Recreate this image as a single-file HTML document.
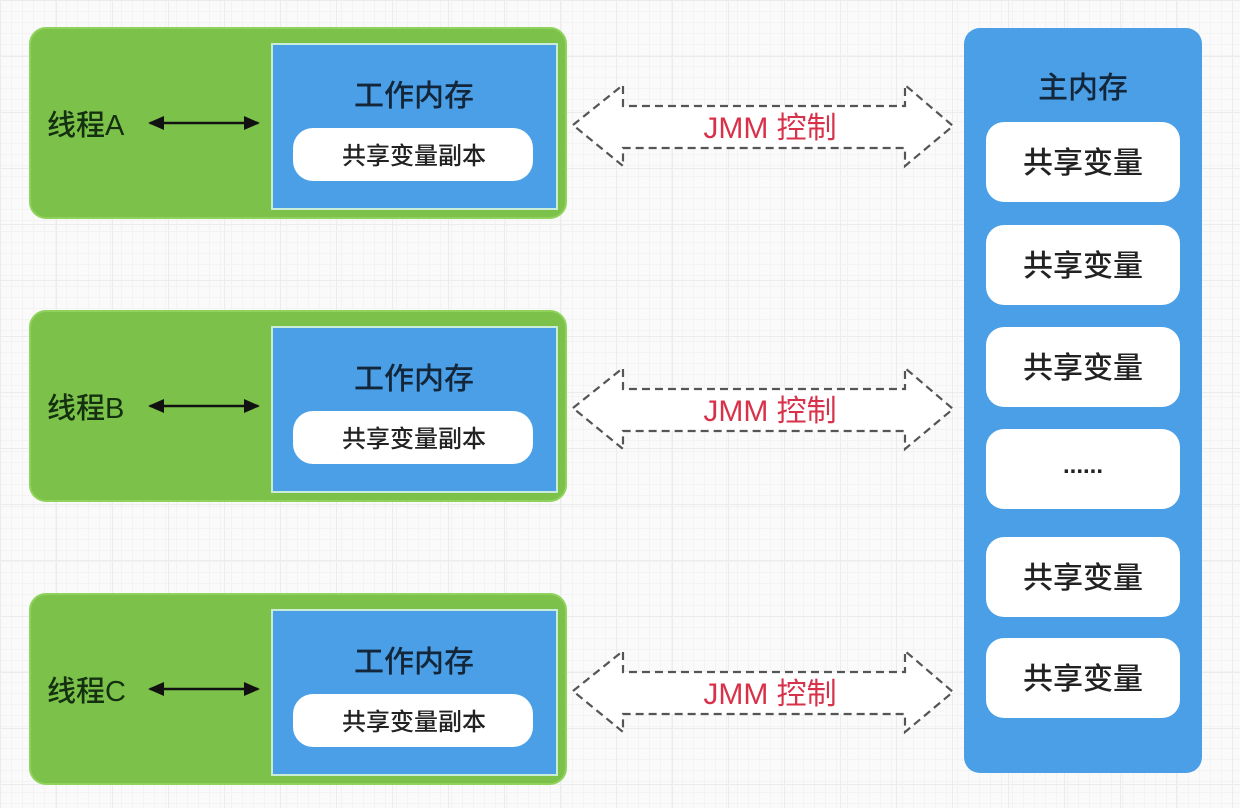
<!DOCTYPE html>
<html><head><meta charset="utf-8"><style>
html,body{margin:0;padding:0;}
body{width:1240px;height:808px;overflow:hidden;background-color:#fafafa;
background-image:linear-gradient(#ececec 1px,transparent 1px),linear-gradient(90deg,#ececec 1px,transparent 1px),linear-gradient(#f3f3f3 1px,transparent 1px),linear-gradient(90deg,#f3f3f3 1px,transparent 1px);
background-size:56px 56px,56px 56px,11px 11px,11px 11px;}
svg{position:absolute;left:0;top:0;font-family:"Liberation Sans","Noto Sans CJK SC",sans-serif;}
</style></head><body>
<svg width="1240" height="808" viewBox="0 0 1240 808">
<defs>
<marker id="ah" markerWidth="16" markerHeight="14" refX="14" refY="7" orient="auto-start-reverse" markerUnits="userSpaceOnUse"><path d="M0,0 L16,7 L0,14 z" fill="#111"/></marker>
<g id="thread">
  <rect x="30" y="28" width="536" height="190" rx="16" fill="#7cc24a" stroke="#8fd35c" stroke-width="2"/>
  <rect x="272" y="44" width="285" height="165" fill="#4a9fe6" stroke="#c9ecd9" stroke-width="2"/>
  <text x="414" y="106" font-size="30" text-anchor="middle" fill="#13263a" font-weight="500">工作内存</text>
  <rect x="293" y="128" width="240" height="53" rx="20" fill="#fff"/>
  <text x="414" y="164" font-size="24" text-anchor="middle" fill="#222" font-weight="500">共享变量副本</text>
  <line x1="150" y1="123" x2="258" y2="123" stroke="#111" stroke-width="2.5" marker-start="url(#ah)" marker-end="url(#ah)"/>
  <path d="M573,125 L623,85 L623,106 L905,106 L905,85 L953,126 L905,166 L905,148 L623,148 L623,166 Z" fill="#fff" stroke="#555" stroke-width="2.2" stroke-dasharray="8,5"/>
  <text x="770" y="138" font-size="30" text-anchor="middle" fill="#d8324a">JMM 控制</text>
</g>
</defs>
<use href="#thread"/>
<use href="#thread" transform="translate(0,283)"/>
<use href="#thread" transform="translate(0,566)"/>
<g font-size="29" fill="#143010" font-weight="500">
<text x="47" y="135">线程A</text>
<text x="47" y="418">线程B</text>
<text x="47" y="701">线程C</text>
</g>
<rect x="964" y="28" width="238" height="745" rx="16" fill="#4a9fe6"/>
<text x="1083" y="98" font-size="30" text-anchor="middle" fill="#13263a" font-weight="500">主内存</text>
<g font-size="30" text-anchor="middle" fill="#222" font-weight="500">
<rect x="986" y="122" width="194" height="80" rx="18" fill="#fff"/><text x="1083" y="173">共享变量</text>
<rect x="986" y="225" width="194" height="80" rx="18" fill="#fff"/><text x="1083" y="276">共享变量</text>
<rect x="986" y="327" width="194" height="80" rx="18" fill="#fff"/><text x="1083" y="378">共享变量</text>
<rect x="986" y="429" width="194" height="80" rx="18" fill="#fff"/><text x="1083" y="473" font-size="24" font-weight="bold">......</text>
<rect x="986" y="537" width="194" height="80" rx="18" fill="#fff"/><text x="1083" y="588">共享变量</text>
<rect x="986" y="638" width="194" height="80" rx="18" fill="#fff"/><text x="1083" y="689">共享变量</text>
</g>
</svg>
</body></html>
